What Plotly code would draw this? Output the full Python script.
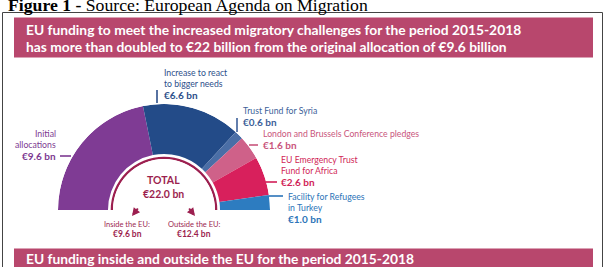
import numpy as np
import plotly.graph_objects as go

# ---------------- data ----------------
categories = ["Initial allocations", "Increase to react to bigger needs",
              "Trust Fund for Syria", "London and Brussels Conference pledges",
              "EU Emergency Trust Fund for Africa", "Facility for Refugees in Turkey"]
label_lines = [["Initial", "allocations"],
               ["Increase to react", "to bigger needs"],
               ["Trust Fund for Syria"],
               ["London and Brussels Conference pledges"],
               ["EU Emergency Trust", "Fund for Africa"],
               ["Facility for Refugees", "in Turkey"]]
values = [9.6, 6.6, 0.6, 1.6, 2.6, 1.0]
total = 22.0
inside_eu = 9.6
outside_eu = 12.4
title_lines = ["EU funding to meet the increased migratory challenges for the period 2015-2018",
               "has more than doubled to €22 billion from the original allocation of €9.6 billion"]
bottom_title = "EU funding inside and outside the EU for the period 2015-2018"
caption_bold = "Figure 1 -"
caption_text = "Source: European Agenda on Migration"

# ---------------- styles ----------------
seg_colors = ["#7f3b94", "#234b88", "#4a6ea6", "#cf6189", "#d8205c", "#2d7cc0"]
lab_colors = ["#7d3a91", "#2d4f8a", "#3d5f99", "#c9557c", "#d11f58", "#2b74b8"]
banner = "#b8476d"
crimson = "#9c1f4f"
FONT = "Lato"

W, H = 606, 267
cx, cy, R = 164, 210, 106
r_ring = 51

fig = go.Figure()

# donut as barpolar half ring
cum = np.concatenate([[0], np.cumsum(values)[:-1]])
theta = (cum + np.array(values) / 2) / total * 180
width = np.array(values) / total * 180
inner = (56 - r_ring) / (R - r_ring)
fig.add_trace(go.Barpolar(r=[1 - inner] * len(values), base=[inner] * len(values),
                          theta=theta, width=width, marker_color=seg_colors,
                          marker_line_width=0, hoverinfo="skip", showlegend=False))
# inner crimson ring
fig.add_trace(go.Barpolar(r=[0.042], base=[0], theta=[90], width=[180],
                          marker_color=crimson, marker_line_width=0,
                          hoverinfo="skip", showlegend=False))

shapes = []
# frame
shapes.append(dict(type="rect", x0=2.5, y0=12.5, x1=602.5, y1=290,
                   line=dict(color="#444", width=1), fillcolor="rgba(0,0,0,0)", layer="below"))
# banners
shapes.append(dict(type="rect", x0=14, y0=17.5, x1=593, y1=57.5, line=dict(width=0),
                   fillcolor=banner, layer="below"))
shapes.append(dict(type="rect", x0=14, y0=248.5, x1=593, y1=290, line=dict(width=0),
                   fillcolor=banner, layer="below"))

# leader lines
leaders = [((60, 156), (71, 156)),
           ((157, 90), (157, 103)),
           ((237, 118), (237, 132)),
           ((249, 145), (258, 145)),
           ((266, 182), (277, 182)),
           ((269, 196), (283, 196))]
for (p0, p1), c in zip(leaders, lab_colors):
    shapes.append(dict(type="line", x0=p0[0], y0=p0[1], x1=p1[0], y1=p1[1],
                       line=dict(color=c, width=1.6)))

ann = []
def txt(x, y, s, size, color, xanchor="left", family=FONT):
    ann.append(dict(x=x, y=y, xref="x", yref="y", text=s, showarrow=False,
                    xanchor=xanchor, yanchor="middle",
                    font=dict(family=family, size=size, color=color)))

# caption (clipped at the top edge, as in the reference)
txt(6, 4.5, f"<b>{caption_bold}</b> {caption_text}", 17.7, "#000", family="Liberation Serif")
# titles
txt(24, 29.5, f"<b>{title_lines[0]}</b>", 13.8, "#fff")
txt(24, 46, f"<b>{title_lines[1]}</b>", 13.8, "#fff")
txt(24, 258.5, f"<b>{bottom_title}</b>", 13.8, "#fff")

# segment labels
lab_pos = [(58, 133, "right"), (162, 72, "left"), (241, 110, "left"),
           (261, 133, "left"), (279, 159, "left"), (286, 196, "left")]
for lines, v, (x, y, xa), c in zip(label_lines, values, lab_pos, lab_colors):
    for i, ln in enumerate(lines):
        txt(x, y + i * 11.3, ln, 8.7, c, xa)
    txt(x, y + len(lines) * 11.3 + 0.5, f"<b>€{v:.1f} bn</b>", 10, c, xa)

# center text
txt(163, 180, "<b>TOTAL</b>", 10.5, crimson, "center")
txt(163, 194, f"<b>€{total:.1f} bn</b>", 10.5, crimson, "center")
txt(127, 224, "Inside the EU:", 7.5, crimson, "center")
txt(127, 233.5, f"<b>€{inside_eu:.1f} bn</b>", 8.5, crimson, "center")
txt(194, 224, "Outside the EU:", 7.5, crimson, "center")
txt(194, 233.5, f"<b>€{outside_eu:.1f} bn</b>", 8.5, crimson, "center")

for (hx, hy, tx, ty) in [(132, 216, 139, 207), (195, 216, 188, 207)]:
    ann.append(dict(x=hx, y=hy, ax=tx, ay=ty, xref="x", yref="y", axref="x", ayref="y",
                    showarrow=True, arrowhead=2, arrowsize=0.8, arrowwidth=2,
                    arrowcolor=crimson, text=""))

fig.update_layout(
    width=W, height=H, margin=dict(l=0, r=0, t=0, b=0),
    paper_bgcolor="white", plot_bgcolor="rgba(0,0,0,0)",
    xaxis=dict(range=[0, W], visible=False, fixedrange=True),
    yaxis=dict(range=[H, 0], visible=False, fixedrange=True),
    polar=dict(domain=dict(x=[(cx - R) / W, (cx + R) / W], y=[(H - cy) / H, (H - cy + R) / H]),
               sector=[0, 180], hole=r_ring / R, bgcolor="rgba(0,0,0,0)",
               radialaxis=dict(visible=False, range=[0, 1]),
               angularaxis=dict(visible=False, direction="clockwise", rotation=180)),
    shapes=shapes, annotations=ann, showlegend=False,
)

fig.write_html("out.html")
